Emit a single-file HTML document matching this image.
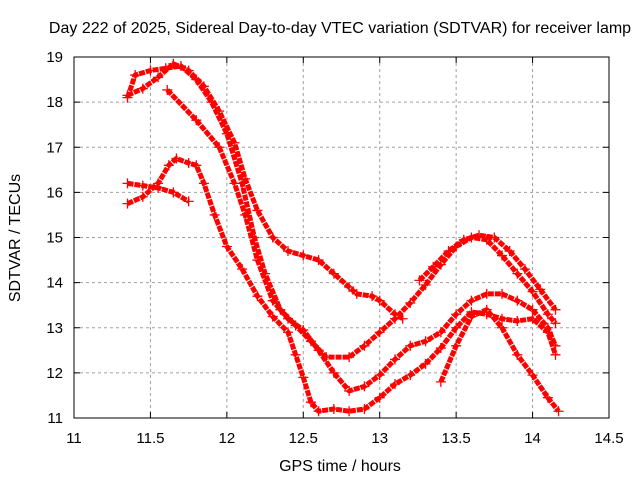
<!DOCTYPE html>
<html><head><meta charset="utf-8"><style>
body{margin:0;background:#fff}
svg{display:block;font-family:"Liberation Sans",sans-serif}
</style></head><body>
<svg id="chart" width="640" height="480">
<text x="340" y="33" text-anchor="middle" font-size="16">Day 222 of 2025, Sidereal Day-to-day VTEC variation (SDTVAR) for receiver lamp</text>
<g id="grid"></g>
<g id="axes"></g>
<g id="series"></g>
<rect x="74" y="57" width="535" height="361" fill="none" stroke="#000" stroke-width="1"/>
<text x="340" y="471" text-anchor="middle" font-size="16">GPS time / hours</text>
<text transform="translate(20,238) rotate(-90)" text-anchor="middle" font-size="16">SDTVAR / TECUs</text>
</svg>
<script>
const xTicks=[11,11.5,12,12.5,13,13.5,14,14.5];
const yTicks=[11,12,13,14,15,16,17,18,19];
const trackA_t=[11.35,11.45,11.55,11.65,11.75,11.85,11.95,12.05,12.12,12.2,12.3,12.4,12.5,12.6,12.7,12.8,12.85,12.95,13.0,13.1,13.15];
const trackA_v=[18.15,18.3,18.55,18.85,18.7,18.35,17.8,17.1,16.3,15.6,15.0,14.7,14.6,14.5,14.2,13.9,13.75,13.7,13.6,13.3,13.2];
const trackB_t=[11.35,11.4,11.5,11.6,11.7,11.8,11.9,12.0,12.1,12.18,12.25,12.35,12.45,12.55,12.65,12.8,12.9,13.0,13.1,13.2,13.3,13.4,13.5,13.6,13.7,13.8,13.9,14.0,14.1,14.15];
const trackB_v=[18.1,18.6,18.7,18.75,18.8,18.5,18.0,17.3,16.2,15.0,14.2,13.4,13.05,12.7,12.35,12.35,12.6,12.9,13.2,13.55,13.95,14.4,14.8,15.0,14.95,14.6,14.2,13.8,13.3,13.1];
const trackC_t=[13.26,13.35,13.45,13.55,13.65,13.75,13.85,13.95,14.05,14.15];
const trackC_v=[14.05,14.35,14.7,14.95,15.05,15.0,14.7,14.3,13.85,13.4];
const trackD_t=[11.61,11.8,11.95,12.05,12.12,12.2,12.3,12.4,12.5,12.6,12.7,12.8,12.9,13.0,13.1,13.2,13.3,13.4,13.5,13.6,13.7,13.8,13.9,14.0,14.1,14.15];
const trackD_v=[18.27,17.6,17.0,16.2,15.5,14.5,13.6,13.2,12.95,12.5,12.0,11.6,11.7,11.95,12.3,12.6,12.7,12.9,13.3,13.6,13.75,13.75,13.6,13.4,13.0,12.6];
const trackE_t=[11.35,11.45,11.55,11.62,11.67,11.75,11.8,11.85,11.92,12.0,12.1,12.2,12.3,12.4,12.45,12.5,12.55,12.6,12.7,12.8,12.9,13.0,13.1,13.2,13.3,13.4,13.5,13.6,13.7,13.8,13.9,14.0,14.1,14.15];
const trackE_v=[15.75,15.9,16.2,16.6,16.75,16.65,16.6,16.2,15.5,14.8,14.3,13.7,13.25,12.9,12.4,11.9,11.35,11.15,11.2,11.15,11.2,11.45,11.75,11.95,12.2,12.55,13.0,13.35,13.3,13.2,13.15,13.2,12.9,12.4];
const trackF_t=[11.35,11.45,11.55,11.65,11.75];
const trackF_v=[16.2,16.15,16.1,16.0,15.8];
const trackG_t=[13.4,13.5,13.6,13.7,13.8,13.9,14.0,14.1,14.17];
const trackG_v=[11.8,12.6,13.25,13.4,13.0,12.4,11.95,11.45,11.15];

const NS='http://www.w3.org/2000/svg';
const X=t=>74+(t-11)*(535/3.5);
const Y=v=>418-(v-11)*(361/8);
function mk(tag,attrs,parent){const e=document.createElementNS(NS,tag);for(const k in attrs)e.setAttribute(k,attrs[k]);parent.appendChild(e);return e;}
const grid=document.getElementById('grid'),axes=document.getElementById('axes'),ser=document.getElementById('series');
xTicks.forEach(t=>{
  if(t>11&&t<14.5){const l=mk('line',{x1:X(t),x2:X(t),y1:57,y2:418,stroke:'#a0a0a0','stroke-dasharray':'3,3'},grid);
  
  }
  const tk=mk('path',{d:`M${X(t)},418v-6M${X(t)},57v6`,stroke:'#000'},axes);
  
  
  const tx=mk('text',{x:X(t),y:443,'text-anchor':'middle','font-size':15},axes);tx.textContent=t;
  
  
});
yTicks.forEach(v=>{
  if(v>11&&v<19){const l=mk('line',{x1:74,x2:609,y1:Y(v),y2:Y(v),stroke:'#a0a0a0','stroke-dasharray':'3,3'},grid);
  
  }
  const tk=mk('path',{d:`M74,${Y(v)}h6M609,${Y(v)}h-6`,stroke:'#000'},axes);
  
  
  const tx=mk('text',{x:63,y:Y(v)+5,'text-anchor':'end','font-size':15},axes);tx.textContent=v;
  
  
});
const tracks=[[trackA_t,trackA_v,'track-a'],[trackB_t,trackB_v,'track-b'],[trackC_t,trackC_v,'track-c'],[trackD_t,trackD_v,'track-d'],[trackE_t,trackE_v,'track-e'],[trackF_t,trackF_v,'track-f'],[trackG_t,trackG_v,'track-g']];
tracks.forEach(([ts,vs,name])=>{
  const g=mk('g',{},ser);
  
  
  const pts=ts.map((t,i)=>X(t)+','+Y(vs[i])).join(' ');
  const pl=mk('polyline',{points:pts,fill:'none',stroke:'#f00','stroke-width':5,'stroke-linejoin':'round','stroke-dasharray':'6,1'},g);
  
  
  ts.forEach((t,i)=>{
    const p=mk('path',{d:`M${X(t)-5},${Y(vs[i])}h10M${X(t)},${Y(vs[i])-5}v10`,stroke:'#f00','stroke-width':1.3},g);
    
    
  });
});
</script>
</body></html>
